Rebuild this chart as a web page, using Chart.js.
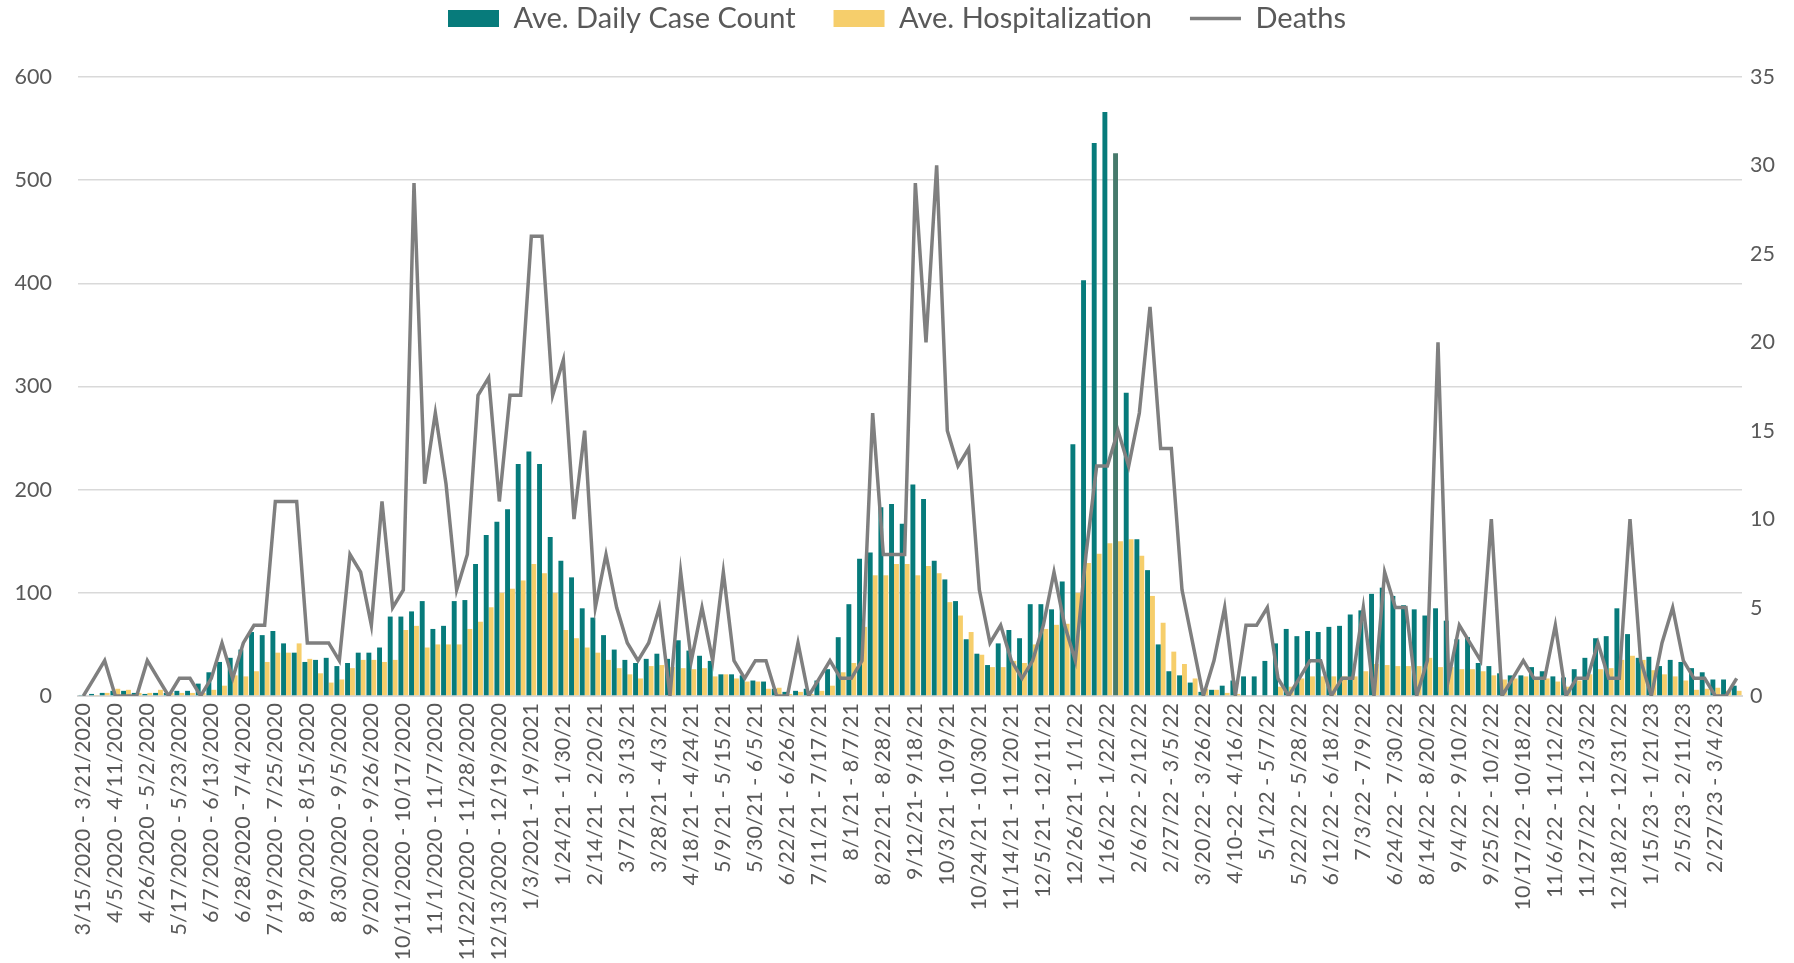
<!DOCTYPE html>
<html>
<head>
<meta charset="utf-8">
<script src="https://cdn.jsdelivr.net/npm/chart.js@4.4.1/dist/chart.umd.min.js"></script>
<style>
    html, body { margin: 0; padding: 0; background: #fff; }
    #wrap { position: relative; width: 1794px; height: 963px; }
</style>
</head>
<body>
<div id="wrap"><canvas id="covidChart"></canvas></div>
<script>
// Weekly values, 3/15/2020 through mid March 2023
const tickLabels = [
    '3/15/2020 - 3/21/2020', '4/5/2020 - 4/11/2020', '4/26/2020 - 5/2/2020', '5/17/2020 - 5/23/2020',
    '6/7/2020 - 6/13/2020', '6/28/2020 - 7/4/2020', '7/19/2020 - 7/25/2020', '8/9/2020 - 8/15/2020',
    '8/30/2020 - 9/5/2020', '9/20/2020 - 9/26/2020', '10/11/2020 - 10/17/2020', '11/1/2020 - 11/7/2020',
    '11/22/2020 - 11/28/2020', '12/13/2020 - 12/19/2020', '1/3/2021 - 1/9/2021', '1/24/21 - 1/30/21',
    '2/14/21 - 2/20/21', '3/7/21 - 3/13/21', '3/28/21 - 4/3/21', '4/18/21 - 4/24/21',
    '5/9/21 - 5/15/21', '5/30/21 - 6/5/21', '6/22/21 - 6/26/21', '7/11/21 - 7/17/21',
    '8/1/21 - 8/7/21', '8/22/21 - 8/28/21', '9/12/21- 9/18/21', '10/3/21 - 10/9/21',
    '10/24/21 - 10/30/21', '11/14/21 - 11/20/21', '12/5/21 - 12/11/21', '12/26/21 - 1/1/22',
    '1/16/22 - 1/22/22', '2/6/22 - 2/12/22', '2/27/22 - 3/5/22', '3/20/22 - 3/26/22',
    '4/10-22 - 4/16/22', '5/1/22 - 5/7/22', '5/22/22 - 5/28/22', '6/12/22 - 6/18/22',
    '7/3/22 - 7/9/22', '6/24/22 - 7/30/22', '8/14/22 - 8/20/22', '9/4/22 - 9/10/22',
    '9/25/22 - 10/2/22', '10/17/22 - 10/18/22', '11/6/22 - 11/12/22', '11/27/22 - 12/3/22',
    '12/18/22 - 12/31/22', '1/15/23 - 1/21/23', '2/5/23 - 2/11/23', '2/27/23 - 3/4/23'
];

const caseCounts = [
    1, 2, 3, 5, 5, 3, 2, 3, 3, 5, 5, 12, 23, 33, 37, 45, 62, 59, 63, 51,
    42, 33, 35, 37, 29, 32, 42, 42, 47, 77, 77, 82, 92, 65, 68, 92, 93, 128, 156, 169,
    181, 225, 237, 225, 154, 131, 115, 85, 76, 59, 45, 35, 32, 36, 41, 36, 54, 44, 39, 34,
    21, 21, 20, 15, 14, 7, 4, 5, 7, 15, 26, 57, 89, 133, 139, 183, 186, 167, 205, 191,
    131, 113, 92, 55, 41, 30, 51, 64, 56, 89, 89, 84, 111, 244, 403, 536, 566, 526, 294, 152,
    122, 50, 24, 20, 13, 4, 6, 10, 15, 19, 19, 34, 51, 65, 58, 63, 62, 67, 68, 79,
    83, 99, 105, 97, 88, 84, 78, 85, 73, 55, 57, 32, 29, 22, 20, 20, 28, 24, 19, 18,
    26, 37, 56, 58, 85, 60, 37, 38, 29, 35, 33, 27, 23, 16, 16, 10
];

const hospitalizations = [
    0, 1, 3, 7, 6, 3, 3, 6, 3, 3, 3, 3, 6, 10, 20, 19, 24, 33, 42, 42,
    51, 36, 22, 13, 16, 27, 35, 35, 33, 35, 64, 68, 47, 50, 50, 50, 65, 72, 86, 100,
    104, 112, 128, 119, 100, 64, 56, 47, 42, 35, 27, 21, 17, 29, 30, 28, 27, 26, 27, 19,
    21, 17, 14, 14, 7, 8, 2, 4, 2, 5, 10, 23, 32, 67, 117, 117, 128, 128, 117, 126,
    119, 91, 78, 62, 40, 28, 28, 34, 32, 50, 65, 69, 70, 100, 129, 138, 148, 150, 152, 136,
    97, 71, 43, 31, 17, 7, 6, 3, 2, 0, 0, 0, 9, 9, 17, 19, 19, 19, 19, 19,
    24, 31, 30, 29, 29, 29, 37, 28, 28, 26, 26, 24, 20, 16, 17, 19, 17, 17, 14, 9,
    15, 21, 26, 27, 35, 39, 35, 25, 21, 19, 15, 6, 7, 8, 5, 5
];

const deaths = [
    0, 1, 2, 0, 0, 0, 2, 1, 0, 1, 1, 0, 1, 3, 1, 3, 4, 4, 11, 11,
    11, 3, 3, 3, 2, 8, 7, 4, 11, 5, 6, 29, 12, 16, 12, 6, 8, 17, 18, 11,
    17, 17, 26, 26, 17, 19, 10, 15, 5, 8, 5, 3, 2, 3, 5, 0, 7, 2, 5, 2,
    7, 2, 1, 2, 2, 0, 0, 3, 0, 1, 2, 1, 1, 2, 16, 8, 8, 8, 29, 20,
    30, 15, 13, 14, 6, 3, 4, 2, 1, 2, 4, 7, 4, 2, 8, 13, 13, 15, 13, 16,
    22, 14, 14, 6, 3, 0, 2, 5, 0, 4, 4, 5, 1, 0, 1, 2, 2, 0, 1, 1,
    5, 0, 7, 5, 5, 0, 2, 20, 1, 4, 3, 2, 10, 0, 1, 2, 1, 1, 4, 0,
    1, 1, 3, 1, 1, 10, 2, 0, 3, 5, 2, 1, 1, 0, 0, 1
];

// Only every third week carries a visible label
const weekLabels = caseCounts.map((_, i) => (i % 3 === 0 ? tickLabels[i / 3] || '' : ''));

const COLORS = {
    teal: '#077b7b',
    tealDark: '#477a6c',
    gold: '#f6ce6b',
    line: '#7f7f7f',
    text: '#595959',
    grid: '#d9d9d9'
};

const FONT = "Lato, 'Open Sans', sans-serif";

// legend sits above a fixed plot top
const legendSpacer = {
    id: 'legendSpacer',
    beforeInit(chart) {
        const fit = chart.legend.fit;
        chart.legend.fit = function() {
            fit.bind(chart.legend)();
            this.height = 111;
        };
    }
};

new Chart(document.getElementById('covidChart'), {
    type: 'bar',
    data: {
        labels: weekLabels,
        datasets: [{
            label: 'Ave. Daily Case Count',
            data: caseCounts,
            backgroundColor: ctx => (ctx.dataIndex === 97 ? COLORS.tealDark : COLORS.teal),
            borderWidth: 0,
            pointStyle: 'rect',
            categoryPercentage: 0.92,
            barPercentage: 1.0,
            yAxisID: 'y',
            order: 1
        }, {
            label: 'Ave. Hospitalization',
            data: hospitalizations,
            backgroundColor: COLORS.gold,
            borderWidth: 0,
            pointStyle: 'rect',
            categoryPercentage: 0.92,
            barPercentage: 1.0,
            yAxisID: 'y',
            order: 1
        }, {
            type: 'line',
            label: 'Deaths',
            data: deaths,
            borderColor: COLORS.line,
            backgroundColor: COLORS.line,
            borderWidth: 3.5,
            pointRadius: 0,
            pointStyle: 'line',
            tension: 0,
            yAxisID: 'y1',
            order: 0
        }]
    },
    options: {
        responsive: true,
        maintainAspectRatio: false,
        animation: false,
        layout: {
            padding: { top: -34, left: 0, right: 0, bottom: 0 }
        },
        plugins: {
            legend: {
                position: 'top',
                labels: {
                    usePointStyle: true,
                    pointStyleWidth: 51,
                    boxHeight: 17,
                    padding: 38,
                    color: COLORS.text,
                    font: { family: FONT, size: 29 },
                    sort: (a, b) => a.datasetIndex - b.datasetIndex
                }
            },
            tooltip: { enabled: false }
        },
        scales: {
            x: {
                offset: true,
                grid: { display: false, drawTicks: false },
                border: { display: true, color: COLORS.grid, width: 2 },
                ticks: {
                    autoSkip: false,
                    maxRotation: 90,
                    minRotation: 90,
                    padding: 7,
                    color: COLORS.text,
                    font: { family: FONT, size: 21.5 }
                },
                afterFit: scale => { scale.height = 267; }
            },
            y: {
                position: 'left',
                min: 0,
                max: 600,
                ticks: {
                    stepSize: 100,
                    padding: 26,
                    color: COLORS.text,
                    font: { family: FONT, size: 21.5 }
                },
                grid: { color: COLORS.grid, lineWidth: 1.5, drawTicks: false },
                border: { display: false },
                afterFit: scale => { scale.width = 78; }
            },
            y1: {
                position: 'right',
                min: 0,
                max: 35,
                ticks: {
                    stepSize: 5,
                    padding: 8,
                    color: COLORS.text,
                    font: { family: FONT, size: 21.5 }
                },
                grid: { display: false, drawTicks: false },
                border: { display: false },
                afterFit: scale => { scale.width = 52; }
            }
        }
    },
    plugins: [legendSpacer]
});
</script>
</body>
</html>
